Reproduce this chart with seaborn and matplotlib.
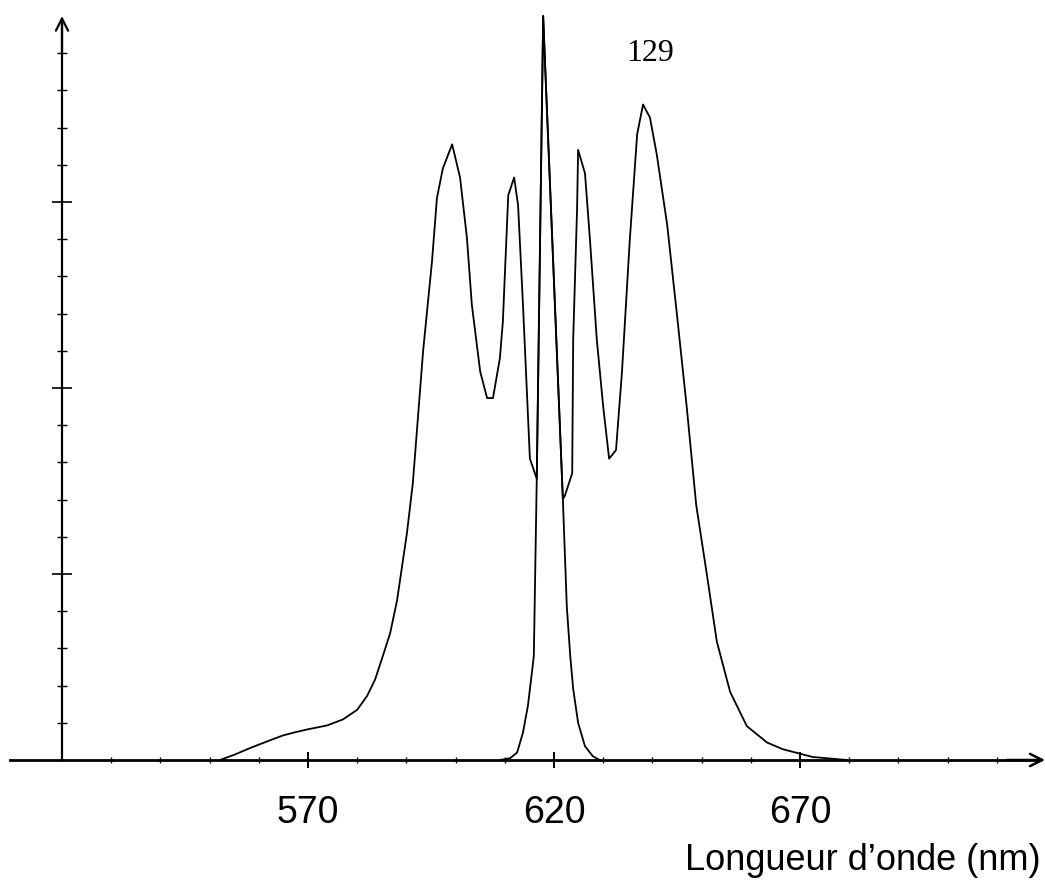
import numpy as np
import pandas as pd
import matplotlib
matplotlib.use("Agg")
import matplotlib.pyplot as plt
import seaborn as sns

# ---- data ----
broad_nm = [552.1, 555.0, 558.2, 561.7, 564.9, 567.5, 569.8, 573.9, 577.1, 580.0, 582.0, 583.6,
            585.2, 586.7, 588.1, 590.1, 591.3, 593.4, 595.2, 596.2, 597.4, 599.3,
            600.9, 602.3, 603.3, 605.0, 606.4, 607.6, 609.0, 609.6, 610.7, 611.9,
            612.7, 613.7, 615.1, 616.5, 617.8, 618.2, 621.8, 622.2, 623.7, 623.9,
            624.7, 624.9, 626.3, 627.3, 628.7, 630.0, 631.2, 632.6, 633.8, 635.4,
            636.9, 638.1, 639.5, 640.9, 643.0, 645.0, 647.0, 648.9, 651.1, 653.1,
            655.8, 659.2, 663.3, 666.5, 669.4, 672.6, 679.5]
broad_int = [0.0, 0.14, 0.32, 0.50, 0.66, 0.75, 0.82, 0.93, 1.09, 1.35, 1.72, 2.15,
             2.79, 3.41, 4.29, 6.09, 7.43, 11.0, 13.4, 15.1, 15.9, 16.55,
             15.66, 14.04, 12.24, 10.44, 9.73, 9.73, 10.8, 11.77, 15.18, 15.66,
             14.91, 12.22, 8.1, 7.56, 20.0, 18.66, 7.02, 7.1, 7.71, 11.3,
             14.87, 16.4, 15.77, 14.0, 11.3, 9.5, 8.1, 8.33, 10.4, 13.97,
             16.82, 17.62, 17.27, 16.27, 14.39, 11.96, 9.46, 6.86, 4.96, 3.18,
             1.83, 0.91, 0.47, 0.29, 0.19, 0.08, 0.0]

narrow_nm = [609.0, 611.1, 612.5, 613.7, 614.7, 615.5, 615.9, 616.5, 617.8, 618.2,
             621.8, 622.6, 623.3, 623.9, 624.9, 626.3, 627.9, 629.3]
narrow_int = [0.0, 0.05, 0.2, 0.74, 1.46, 2.34, 2.8, 7.6, 20.0, 18.66,
              7.02, 4.13, 2.8, 1.91, 1.0, 0.37, 0.1, 0.0]

x_major = [570, 620, 670]
x_minor = [530, 540, 550, 560, 580, 590, 600, 610, 630, 640, 650, 660, 680, 690, 700, 710]
y_major = [5, 10, 15]
y_minor = [1, 2, 3, 4, 6, 7, 8, 9, 11, 12, 13, 14, 16, 17, 18, 19]
x_label = "Longueur d\u2019onde (nm)"
peak_note = "129"

# ---- figure ----
sns.set_style("ticks")
W, H = 1045, 885
fig = plt.figure(figsize=(W / 100, H / 100), dpi=100)
ax = fig.add_axes([0, 0, 1, 1])
ax.set_facecolor("white")

px_per_nm = 4.92
x0_px = 62.0
base_px = 760.0
px_per_unit = 37.2
ax.set_xlim(520 - x0_px / px_per_nm, 520 + (W - x0_px) / px_per_nm)
ax.set_ylim(-(H - base_px) / px_per_unit, base_px / px_per_unit)

df_b = pd.DataFrame({"nm": broad_nm, "I": broad_int})
df_n = pd.DataFrame({"nm": narrow_nm, "I": narrow_int})
sns.lineplot(data=df_b, x="nm", y="I", ax=ax, color="black", lw=1.3,
             estimator=None, sort=False)
sns.lineplot(data=df_n, x="nm", y="I", ax=ax, color="black", lw=1.3,
             estimator=None, sort=False)

# axes as spines through the origin
for s in ["top", "right"]:
    ax.spines[s].set_visible(False)
ax.spines["left"].set_position(("data", 520))
ax.spines["bottom"].set_position(("data", 0))
ax.spines["bottom"].set_bounds(509.4, 718.5)
ax.spines["left"].set_bounds(0, 19.8)
ax.spines["bottom"].set_linewidth(2.0)
ax.spines["left"].set_linewidth(1.6)
ax.spines["bottom"].set_color("black")
ax.spines["left"].set_color("black")

ax.set_xticks(x_major)
ax.set_xticks(x_minor, minor=True)
ax.set_yticks(y_major)
ax.set_yticks(y_minor, minor=True)
ax.set_yticklabels([])
ax.tick_params(axis="x", which="major", direction="inout", length=11, width=1.4,
               color="black", labelcolor="black", bottom=True, pad=20)
ax.tick_params(axis="x", which="minor", direction="inout", length=4.5, width=1.0,
               color="black", bottom=True)
ax.tick_params(axis="y", which="major", direction="inout", length=15, width=1.2,
               color="black", left=True)
ax.tick_params(axis="y", which="minor", direction="inout", length=6.5, width=1.0,
               color="black", left=True)
fam = ["Liberation Sans", "DejaVu Sans"]
for lab in ax.get_xticklabels():
    lab.set_fontfamily(fam)
    lab.set_fontsize(27)
    lab.set_color("black")
ax.set_xlabel("")
ax.set_ylabel("")

# arrow heads
ax.annotate("", xy=(719.8, 0), xytext=(712, 0),
            arrowprops=dict(arrowstyle="->", lw=1.8, color="black",
                            mutation_scale=22, shrinkA=0, shrinkB=0))
ax.annotate("", xy=(520, 20.0), xytext=(520, 19.0),
            arrowprops=dict(arrowstyle="->", lw=1.6, color="black",
                            mutation_scale=22, shrinkA=0, shrinkB=0))

# texts
ax.text(719.0, -2.97, x_label, ha="right", va="baseline", fontsize=26,
        family=fam, color="black")
ax.text(639.5, 19.0, peak_note, ha="center", va="center", fontsize=23,
        family=["Liberation Serif", "DejaVu Serif"], color="black")

fig.savefig("out.png", dpi=100, facecolor="white")
